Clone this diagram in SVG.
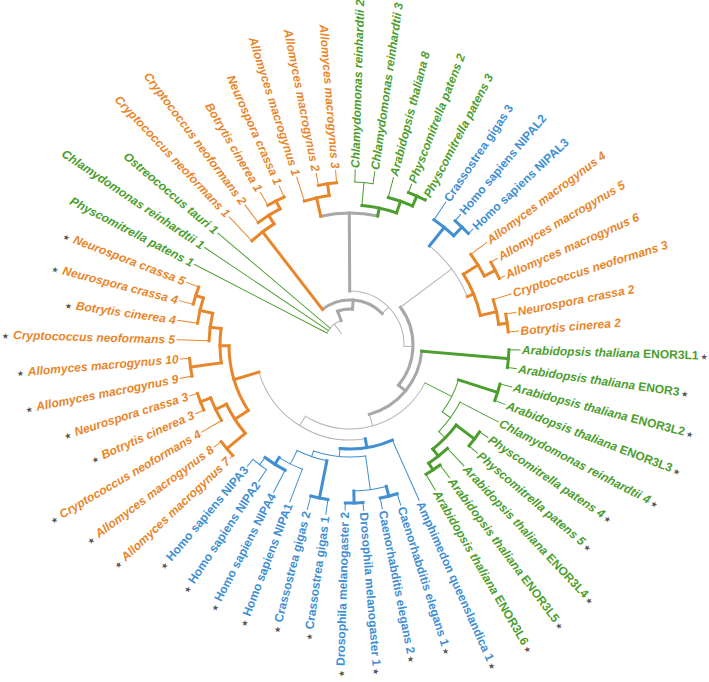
<svg xmlns="http://www.w3.org/2000/svg" width="709" height="682" viewBox="0 0 709 682">
<style>
.c line,.c circle{fill:none;stroke-linecap:square}
.k1{stroke:#b4b4b4;stroke-width:1}
.k3{stroke:#a8a8a8;stroke-width:3}
.o1{stroke:#e8862b;stroke-width:1}
.o3{stroke:#e8862b;stroke-width:3}
.g1{stroke:#4c9e2e;stroke-width:1}
.g3{stroke:#4c9e2e;stroke-width:3}
.b1{stroke:#3f8fd2;stroke-width:1}
.b3{stroke:#3f8fd2;stroke-width:3}
text{font-family:"Liberation Sans",Arial,sans-serif;font-size:12px;font-weight:bold;font-style:italic}
.to{fill:#e8862b}.tg{fill:#4c9e2e}.tb{fill:#3f8fd2;font-style:normal}
.u{font-style:normal}
.s{font-family:"DejaVu Sans",sans-serif;font-style:normal;font-weight:normal;font-size:8px;fill:#555}
</style>
<rect width="709" height="682" fill="#fff"/>
<g id="connectors" class="c" transform="translate(350,345)">
<line class="k1" x1="14" x2="26" transform="rotate(233)"/>
<circle class="k1" r="26" pathLength="360" stroke-dasharray="42.6 360" transform="rotate(207.41)"/>
<line class="k3" x1="26" x2="36" transform="rotate(250)"/>
<circle class="k3" r="36" pathLength="360" stroke-dasharray="24 360" transform="rotate(250)"/>
<line class="k3" x1="36" x2="45" transform="rotate(274)"/>
<circle class="k3" r="45" pathLength="360" stroke-dasharray="83.3 360" transform="rotate(232.3)"/>
<line class="g1" x1="26" x2="175" transform="rotate(207.41)"/>
<line class="g1" x1="26" x2="175" transform="rotate(213.84)"/>
<line class="g1" x1="26" x2="173" transform="rotate(220.27)"/>
<line class="o3" x1="45" x2="143" transform="rotate(232.3)"/>
<line class="k1" x1="45" x2="54" transform="rotate(315.6)"/>
<circle class="k1" r="54" pathLength="360" stroke-dasharray="91.7 360" transform="rotate(269.7)"/>
<line class="k3" x1="54" x2="132" transform="rotate(269.7)"/>
<circle class="k3" r="132" pathLength="360" stroke-dasharray="24.9 360" transform="rotate(257.2)"/>
<line class="o3" x1="132" x2="151" transform="rotate(257.2)"/>
<line class="g3" x1="132" x2="140" transform="rotate(282.1)"/>
<line class="k1" x1="54" x2="63" transform="rotate(1.4)"/>
<circle class="k3" r="63" pathLength="360" stroke-dasharray="76.4 360" transform="rotate(323.2)"/>
<line class="k1" x1="63" x2="127" transform="rotate(323.2)"/>
<circle class="k1" r="127" pathLength="360" stroke-dasharray="28.9 360" transform="rotate(308.7)"/>
<line class="b3" x1="127" x2="150.7" transform="rotate(308.7)"/>
<line class="o3" x1="127" x2="133.7" transform="rotate(337.6)"/>
<line class="k3" x1="63" x2="72" transform="rotate(39.6)"/>
<circle class="k3" r="72" pathLength="360" stroke-dasharray="69.5 360" transform="rotate(4.9)"/>
<line class="g3" x1="72" x2="159" transform="rotate(4.9)"/>
<line class="k1" x1="72" x2="84" transform="rotate(74.4)"/>
<circle class="k1" r="84" pathLength="360" stroke-dasharray="95.2 360" transform="rotate(26.8)"/>
<line class="g1" x1="84" x2="114" transform="rotate(26.8)"/>
<line class="k1" x1="84" x2="95" transform="rotate(122)"/>
<circle class="k1" r="95" pathLength="360" stroke-dasharray="82.7 360" transform="rotate(80.7)"/>
<line class="b3" x1="95" x2="104" transform="rotate(80.7)"/>
<line class="o3" x1="95" x2="121" transform="rotate(163.4)"/>
<circle class="o3" r="143" pathLength="360" stroke-dasharray="11.2 360" transform="rotate(226.7)"/>
<line class="o1" x1="143" x2="176" transform="rotate(226.7)"/>
<line class="o3" x1="143" x2="153" transform="rotate(237.9)"/>
<circle class="o3" r="153" pathLength="360" stroke-dasharray="9.67 360" transform="rotate(233.13)"/>
<line class="o1" x1="153" x2="175" transform="rotate(233.13)"/>
<line class="o3" x1="153" x2="162" transform="rotate(242.8)"/>
<circle class="o3" r="162" pathLength="360" stroke-dasharray="6.43 360" transform="rotate(239.56)"/>
<line class="o1" x1="162" x2="177" transform="rotate(239.56)"/>
<line class="o1" x1="162" x2="174" transform="rotate(245.99)"/>
<circle class="o3" r="151" pathLength="360" stroke-dasharray="9.65 360" transform="rotate(252.41)"/>
<line class="o1" x1="151" x2="176" transform="rotate(252.41)"/>
<line class="o3" x1="151" x2="162.7" transform="rotate(262.06)"/>
<circle class="o3" r="162.7" pathLength="360" stroke-dasharray="6.43 360" transform="rotate(258.84)"/>
<line class="o1" x1="162.7" x2="175" transform="rotate(258.84)"/>
<line class="o1" x1="162.7" x2="175" transform="rotate(265.27)"/>
<circle class="g3" r="140" pathLength="360" stroke-dasharray="14.5 360" transform="rotate(274.9)"/>
<line class="g1" x1="140" x2="163" transform="rotate(274.9)"/>
<circle class="g1" r="163" pathLength="360" stroke-dasharray="6.43 360" transform="rotate(271.7)"/>
<line class="g1" x1="163" x2="175" transform="rotate(271.7)"/>
<line class="g1" x1="163" x2="175" transform="rotate(278.13)"/>
<line class="g3" x1="140" x2="152.4" transform="rotate(289.4)"/>
<circle class="g3" r="152.4" pathLength="360" stroke-dasharray="9.64 360" transform="rotate(284.56)"/>
<line class="g1" x1="152.4" x2="173" transform="rotate(284.56)"/>
<line class="g3" x1="152.4" x2="163.3" transform="rotate(294.2)"/>
<circle class="g3" r="163.3" pathLength="360" stroke-dasharray="6.42 360" transform="rotate(290.99)"/>
<line class="g1" x1="163.3" x2="172" transform="rotate(290.99)"/>
<line class="g1" x1="163.3" x2="165" transform="rotate(297.41)"/>
<circle class="b3" r="150.7" pathLength="360" stroke-dasharray="9.66 360" transform="rotate(303.84)"/>
<line class="b1" x1="150.7" x2="172" transform="rotate(303.84)"/>
<line class="b3" x1="150.7" x2="162.6" transform="rotate(313.5)"/>
<circle class="b3" r="162.6" pathLength="360" stroke-dasharray="6.43 360" transform="rotate(310.27)"/>
<line class="b1" x1="162.6" x2="171" transform="rotate(310.27)"/>
<line class="b1" x1="162.6" x2="169" transform="rotate(316.7)"/>
<circle class="o3" r="133.7" pathLength="360" stroke-dasharray="19.2 360" transform="rotate(328)"/>
<line class="o3" x1="133.7" x2="151" transform="rotate(328)"/>
<circle class="o3" r="151" pathLength="360" stroke-dasharray="9.67 360" transform="rotate(323.13)"/>
<line class="o1" x1="151" x2="171" transform="rotate(323.13)"/>
<line class="o3" x1="151" x2="163.3" transform="rotate(332.8)"/>
<circle class="o3" r="163.3" pathLength="360" stroke-dasharray="6.43 360" transform="rotate(329.56)"/>
<line class="o1" x1="163.3" x2="171" transform="rotate(329.56)"/>
<line class="o1" x1="163.3" x2="169" transform="rotate(335.99)"/>
<line class="o3" x1="133.7" x2="150.2" transform="rotate(347.2)"/>
<circle class="o3" r="150.2" pathLength="360" stroke-dasharray="9.69 360" transform="rotate(342.41)"/>
<line class="o1" x1="150.2" x2="169" transform="rotate(342.41)"/>
<line class="o3" x1="150.2" x2="158.7" transform="rotate(352.1)"/>
<circle class="o3" r="158.7" pathLength="360" stroke-dasharray="6.43 360" transform="rotate(348.84)"/>
<line class="o1" x1="158.7" x2="169" transform="rotate(348.84)"/>
<line class="o1" x1="158.7" x2="169" transform="rotate(355.27)"/>
<circle class="g3" r="159" pathLength="360" stroke-dasharray="6.43 360" transform="rotate(1.7)"/>
<line class="g1" x1="159" x2="170" transform="rotate(1.7)"/>
<line class="g1" x1="159" x2="168" transform="rotate(8.13)"/>
<circle class="g1" r="114" pathLength="360" stroke-dasharray="18.1 360" transform="rotate(17.8)"/>
<line class="g3" x1="114" x2="155" transform="rotate(17.8)"/>
<circle class="g3" r="155" pathLength="360" stroke-dasharray="6.43 360" transform="rotate(14.56)"/>
<line class="g1" x1="155" x2="167" transform="rotate(14.56)"/>
<line class="g1" x1="155" x2="166" transform="rotate(20.99)"/>
<line class="g1" x1="114" x2="124" transform="rotate(35.9)"/>
<circle class="g1" r="124" pathLength="360" stroke-dasharray="16.89 360" transform="rotate(27.41)"/>
<line class="g1" x1="124" x2="167" transform="rotate(27.41)"/>
<line class="g1" x1="124" x2="133" transform="rotate(44.3)"/>
<circle class="g3" r="133" pathLength="360" stroke-dasharray="14.45 360" transform="rotate(37.05)"/>
<line class="g3" x1="133" x2="156" transform="rotate(37.05)"/>
<circle class="g3" r="156" pathLength="360" stroke-dasharray="6.43 360" transform="rotate(33.84)"/>
<line class="g1" x1="156" x2="166" transform="rotate(33.84)"/>
<line class="g1" x1="156" x2="167" transform="rotate(40.27)"/>
<line class="g3" x1="133" x2="142" transform="rotate(51.5)"/>
<circle class="g3" r="142" pathLength="360" stroke-dasharray="9.65 360" transform="rotate(46.7)"/>
<line class="g1" x1="142" x2="166" transform="rotate(46.7)"/>
<line class="g3" x1="142" x2="150" transform="rotate(56.35)"/>
<circle class="g3" r="150" pathLength="360" stroke-dasharray="6.43 360" transform="rotate(53.13)"/>
<line class="g1" x1="150" x2="166" transform="rotate(53.13)"/>
<line class="g1" x1="150" x2="168" transform="rotate(59.56)"/>
<circle class="b3" r="104" pathLength="360" stroke-dasharray="29.5 360" transform="rotate(66)"/>
<line class="b1" x1="104" x2="170" transform="rotate(66)"/>
<line class="b1" x1="104" x2="112" transform="rotate(95.5)"/>
<circle class="b1" r="112" pathLength="360" stroke-dasharray="27 360" transform="rotate(82)"/>
<line class="b1" x1="112" x2="146" transform="rotate(82)"/>
<circle class="b1" r="146" pathLength="360" stroke-dasharray="12.9 360" transform="rotate(75.6)"/>
<line class="b3" x1="146" x2="156" transform="rotate(75.6)"/>
<circle class="b3" r="156" pathLength="360" stroke-dasharray="6.43 360" transform="rotate(72.41)"/>
<line class="b1" x1="156" x2="168" transform="rotate(72.41)"/>
<line class="b1" x1="156" x2="167" transform="rotate(78.84)"/>
<line class="b3" x1="146" x2="158" transform="rotate(88.5)"/>
<circle class="b3" r="158" pathLength="360" stroke-dasharray="6.43 360" transform="rotate(85.27)"/>
<line class="b1" x1="158" x2="166" transform="rotate(85.27)"/>
<line class="b1" x1="158" x2="165" transform="rotate(91.7)"/>
<line class="b1" x1="112" x2="118" transform="rotate(109)"/>
<circle class="b1" r="118" pathLength="360" stroke-dasharray="15.3 360" transform="rotate(101.3)"/>
<line class="b3" x1="118" x2="156" transform="rotate(101.3)"/>
<circle class="b3" r="156" pathLength="360" stroke-dasharray="6.43 360" transform="rotate(98.13)"/>
<line class="b1" x1="156" x2="171" transform="rotate(98.13)"/>
<line class="b1" x1="156" x2="170" transform="rotate(104.56)"/>
<line class="b1" x1="118" x2="133" transform="rotate(116.6)"/>
<circle class="b1" r="133" pathLength="360" stroke-dasharray="11.21 360" transform="rotate(110.99)"/>
<line class="b1" x1="133" x2="168" transform="rotate(110.99)"/>
<line class="b3" x1="133" x2="141" transform="rotate(122.2)"/>
<circle class="b3" r="141" pathLength="360" stroke-dasharray="9.65 360" transform="rotate(117.41)"/>
<line class="b1" x1="141" x2="166" transform="rotate(117.41)"/>
<line class="b1" x1="141" x2="150" transform="rotate(127.06)"/>
<circle class="b1" r="150" pathLength="360" stroke-dasharray="6.43 360" transform="rotate(123.84)"/>
<line class="b1" x1="150" x2="164" transform="rotate(123.84)"/>
<line class="b1" x1="150" x2="159" transform="rotate(130.27)"/>
<circle class="o3" r="121" pathLength="360" stroke-dasharray="32.5 360" transform="rotate(147.2)"/>
<line class="o3" x1="121" x2="137" transform="rotate(147.2)"/>
<circle class="o3" r="137" pathLength="360" stroke-dasharray="14.5 360" transform="rotate(139.9)"/>
<line class="o3" x1="137" x2="161" transform="rotate(139.9)"/>
<circle class="o3" r="161" pathLength="360" stroke-dasharray="6.43 360" transform="rotate(136.7)"/>
<line class="o1" x1="161" x2="165" transform="rotate(136.7)"/>
<line class="o1" x1="161" x2="170" transform="rotate(143.13)"/>
<line class="o3" x1="137" x2="149" transform="rotate(154.4)"/>
<circle class="o3" r="149" pathLength="360" stroke-dasharray="9.64 360" transform="rotate(149.56)"/>
<line class="o1" x1="149" x2="172" transform="rotate(149.56)"/>
<line class="o3" x1="149" x2="160" transform="rotate(159.2)"/>
<circle class="o3" r="160" pathLength="360" stroke-dasharray="6.43 360" transform="rotate(155.99)"/>
<line class="o1" x1="160" x2="169" transform="rotate(155.99)"/>
<line class="o1" x1="160" x2="168" transform="rotate(162.41)"/>
<line class="o3" x1="121" x2="130" transform="rotate(179.7)"/>
<circle class="o3" r="130" pathLength="360" stroke-dasharray="15.2 360" transform="rotate(172.1)"/>
<line class="o3" x1="130" x2="161" transform="rotate(172.1)"/>
<circle class="o3" r="161" pathLength="360" stroke-dasharray="6.43 360" transform="rotate(168.84)"/>
<line class="o1" x1="161" x2="173" transform="rotate(168.84)"/>
<line class="o1" x1="161" x2="170" transform="rotate(175.27)"/>
<line class="o3" x1="130" x2="141" transform="rotate(187.3)"/>
<circle class="o3" r="141" pathLength="360" stroke-dasharray="11.3 360" transform="rotate(181.7)"/>
<line class="o1" x1="141" x2="173" transform="rotate(181.7)"/>
<line class="o3" x1="141" x2="154" transform="rotate(193)"/>
<circle class="o3" r="154" pathLength="360" stroke-dasharray="9.67 360" transform="rotate(188.13)"/>
<line class="o1" x1="154" x2="174" transform="rotate(188.13)"/>
<line class="o3" x1="154" x2="162" transform="rotate(197.8)"/>
<circle class="o3" r="162" pathLength="360" stroke-dasharray="6.43 360" transform="rotate(194.56)"/>
<line class="o1" x1="162" x2="176" transform="rotate(194.56)"/>
<line class="o1" x1="162" x2="175" transform="rotate(200.99)"/>
</g>
<g id="leaves" transform="translate(350,345)">
<g id="leaf01"><text class="to" transform="rotate(1.7)" x="-175" y="4" text-anchor="end"><tspan class="s">★</tspan><tspan dx="4">Cryptococcus neoformans 5</tspan></text></g>
<g id="leaf02"><text class="to" transform="rotate(8.13)" x="-176" y="4" text-anchor="end"><tspan class="s">★</tspan><tspan dx="4">Botrytis cinerea 4</tspan></text></g>
<g id="leaf03"><text class="to" transform="rotate(14.56)" x="-178" y="4" text-anchor="end"><tspan class="s">★</tspan><tspan dx="4">Neurospora crassa 4</tspan></text></g>
<g id="leaf04"><text class="to" transform="rotate(20.99)" x="-177" y="4" text-anchor="end"><tspan class="s">★</tspan><tspan dx="4">Neurospora crassa 5</tspan></text></g>
<g id="leaf05"><text class="tg" transform="rotate(27.41)" x="-177" y="4" text-anchor="end">Physcomitrella patens 1</text></g>
<g id="leaf06"><text class="tg" transform="rotate(33.84)" x="-177" y="4" text-anchor="end">Chlamydomonas reinhardtii 1</text></g>
<g id="leaf07"><text class="tg" transform="rotate(40.27)" x="-175" y="4" text-anchor="end">Ostreococcus tauri 1</text></g>
<g id="leaf08"><text class="to" transform="rotate(46.7)" x="-178" y="4" text-anchor="end">Cryptococcus neoformans 1</text></g>
<g id="leaf09"><text class="to" transform="rotate(53.13)" x="-177" y="4" text-anchor="end">Cryptococcus neoformans 2</text></g>
<g id="leaf10"><text class="to" transform="rotate(59.56)" x="-179" y="4" text-anchor="end">Botrytis cinerea 1</text></g>
<g id="leaf11"><text class="to" transform="rotate(65.99)" x="-176" y="4" text-anchor="end">Neurospora crassa 1</text></g>
<g id="leaf12"><text class="to" transform="rotate(72.41)" x="-178" y="4" text-anchor="end">Allomyces macrogynus 1</text></g>
<g id="leaf13"><text class="to" transform="rotate(78.84)" x="-177" y="4" text-anchor="end">Allomyces macrogynus 2</text></g>
<g id="leaf14"><text class="to" transform="rotate(85.27)" x="-177" y="4" text-anchor="end">Allomyces macrogynus 3</text></g>
<g id="leaf15"><text class="tg" transform="rotate(271.7)" x="177" y="4">Chlamydomonas reinhardtii 2</text></g>
<g id="leaf16"><text class="tg" transform="rotate(278.13)" x="177" y="4">Chlamydomonas reinhardtii 3</text></g>
<g id="leaf17"><text class="tg" transform="rotate(284.56)" x="175" y="4">Arabidopsis thaliana 8</text></g>
<g id="leaf18"><text class="tg" transform="rotate(290.99)" x="174" y="4">Physcomitrella patens 2</text></g>
<g id="leaf19"><text class="tg" transform="rotate(297.41)" x="167" y="4">Physcomitrella patens 3</text></g>
<g id="leaf20"><text class="tb" transform="rotate(303.84)" x="174" y="4">Crassostrea gigas 3</text></g>
<g id="leaf21"><text class="tb" transform="rotate(310.27)" x="173" y="4">Homo sapiens NIPAL2</text></g>
<g id="leaf22"><text class="tb" transform="rotate(316.7)" x="171" y="4">Homo sapiens NIPAL3</text></g>
<g id="leaf23"><text class="to" transform="rotate(323.13)" x="173" y="4">Allomyces macrogynus 4</text></g>
<g id="leaf24"><text class="to" transform="rotate(329.56)" x="173" y="4">Allomyces macrogynus 5</text></g>
<g id="leaf25"><text class="to" transform="rotate(335.99)" x="171" y="4">Allomyces macrogynus 6</text></g>
<g id="leaf26"><text class="to" transform="rotate(342.41)" x="171" y="4">Cryptococcus neoformans 3</text></g>
<g id="leaf27"><text class="to" transform="rotate(348.84)" x="171" y="4">Neurospora crassa 2</text></g>
<g id="leaf28"><text class="to" transform="rotate(355.27)" x="171" y="4">Botrytis cinerea 2</text></g>
<g id="leaf29"><text class="tg" transform="rotate(1.7)" x="172" y="4">Arabidopsis thaliana <tspan class="u">ENOR3L1</tspan><tspan class="s" dx="2">★</tspan></text></g>
<g id="leaf30"><text class="tg" transform="rotate(8.13)" x="170" y="4">Arabidopsis thaliana <tspan class="u">ENOR3</tspan><tspan class="s" dx="2">★</tspan></text></g>
<g id="leaf31"><text class="tg" transform="rotate(14.56)" x="169" y="4">Arabidopsis thaliana <tspan class="u">ENOR3L2</tspan><tspan class="s" dx="2">★</tspan></text></g>
<g id="leaf32"><text class="tg" transform="rotate(20.99)" x="168" y="4">Arabidopsis thaliana <tspan class="u">ENOR3L3</tspan><tspan class="s" dx="2">★</tspan></text></g>
<g id="leaf33"><text class="tg" transform="rotate(27.41)" x="169" y="4">Chlamydomonas reinhardtii 4<tspan class="s" dx="2">★</tspan></text></g>
<g id="leaf34"><text class="tg" transform="rotate(33.84)" x="168" y="4">Physcomitrella patens 4<tspan class="s" dx="2">★</tspan></text></g>
<g id="leaf35"><text class="tg" transform="rotate(40.27)" x="169" y="4">Physcomitrella patens 5<tspan class="s" dx="2">★</tspan></text></g>
<g id="leaf36"><text class="tg" transform="rotate(46.7)" x="168" y="4">Arabidopsis thaliana <tspan class="u">ENOR3L4</tspan><tspan class="s" dx="2">★</tspan></text></g>
<g id="leaf37"><text class="tg" transform="rotate(53.13)" x="168" y="4">Arabidopsis thaliana <tspan class="u">ENOR3L5</tspan><tspan class="s" dx="2">★</tspan></text></g>
<g id="leaf38"><text class="tg" transform="rotate(59.56)" x="170" y="4">Arabidopsis thaliana <tspan class="u">ENOR3L6</tspan><tspan class="s" dx="2">★</tspan></text></g>
<g id="leaf39"><text class="tb" transform="rotate(65.99)" x="172" y="4">Amphimedon queenslandica 1<tspan class="s" dx="2">★</tspan></text></g>
<g id="leaf40"><text class="tb" transform="rotate(72.41)" x="170" y="4">Caenorhabditis elegans 1<tspan class="s" dx="2">★</tspan></text></g>
<g id="leaf41"><text class="tb" transform="rotate(78.84)" x="169" y="4">Caenorhabditis elegans 2<tspan class="s" dx="2">★</tspan></text></g>
<g id="leaf42"><text class="tb" transform="rotate(85.27)" x="168" y="4">Drosophila melanogaster 1<tspan class="s" dx="2">★</tspan></text></g>
<g id="leaf43"><text class="tb" transform="rotate(-88.3)" x="-167" y="4" text-anchor="end"><tspan class="s">★</tspan><tspan dx="4">Drosophila melanogaster 2</tspan></text></g>
<g id="leaf44"><text class="tb" transform="rotate(-81.87)" x="-173" y="4" text-anchor="end"><tspan class="s">★</tspan><tspan dx="4">Crassostrea gigas 1</tspan></text></g>
<g id="leaf45"><text class="tb" transform="rotate(-75.44)" x="-172" y="4" text-anchor="end"><tspan class="s">★</tspan><tspan dx="4">Crassostrea gigas 2</tspan></text></g>
<g id="leaf46"><text class="tb" transform="rotate(-69.01)" x="-170" y="4" text-anchor="end"><tspan class="s">★</tspan><tspan dx="4">Homo sapiens NIPA1</tspan></text></g>
<g id="leaf47"><text class="tb" transform="rotate(-62.59)" x="-168" y="4" text-anchor="end"><tspan class="s">★</tspan><tspan dx="4">Homo sapiens NIPA4</tspan></text></g>
<g id="leaf48"><text class="tb" transform="rotate(-56.16)" x="-166" y="4" text-anchor="end"><tspan class="s">★</tspan><tspan dx="4">Homo sapiens NIPA2</tspan></text></g>
<g id="leaf49"><text class="tb" transform="rotate(-49.73)" x="-161" y="4" text-anchor="end"><tspan class="s">★</tspan><tspan dx="4">Homo sapiens NIPA3</tspan></text></g>
<g id="leaf50"><text class="to" transform="rotate(-43.3)" x="-167" y="4" text-anchor="end"><tspan class="s">★</tspan><tspan dx="4">Allomyces macrogynus 7</tspan></text></g>
<g id="leaf51"><text class="to" transform="rotate(-36.87)" x="-172" y="4" text-anchor="end"><tspan class="s">★</tspan><tspan dx="4">Allomyces macrogynus 8</tspan></text></g>
<g id="leaf52"><text class="to" transform="rotate(-30.44)" x="-174" y="4" text-anchor="end"><tspan class="s">★</tspan><tspan dx="4">Cryptococcus neoformans 4</tspan></text></g>
<g id="leaf53"><text class="to" transform="rotate(-24.01)" x="-171" y="4" text-anchor="end"><tspan class="s">★</tspan><tspan dx="4">Botrytis cinerea 3</tspan></text></g>
<g id="leaf54"><text class="to" transform="rotate(-17.59)" x="-170" y="4" text-anchor="end"><tspan class="s">★</tspan><tspan dx="4">Neurospora crassa 3</tspan></text></g>
<g id="leaf55"><text class="to" transform="rotate(-11.16)" x="-175" y="4" text-anchor="end"><tspan class="s">★</tspan><tspan dx="4">Allomyces macrogynus 9</tspan></text></g>
<g id="leaf56"><text class="to" transform="rotate(-4.73)" x="-172" y="4" text-anchor="end"><tspan class="s">★</tspan><tspan dx="4">Allomyces macrogynus 10</tspan></text></g>
</g>
</svg>
